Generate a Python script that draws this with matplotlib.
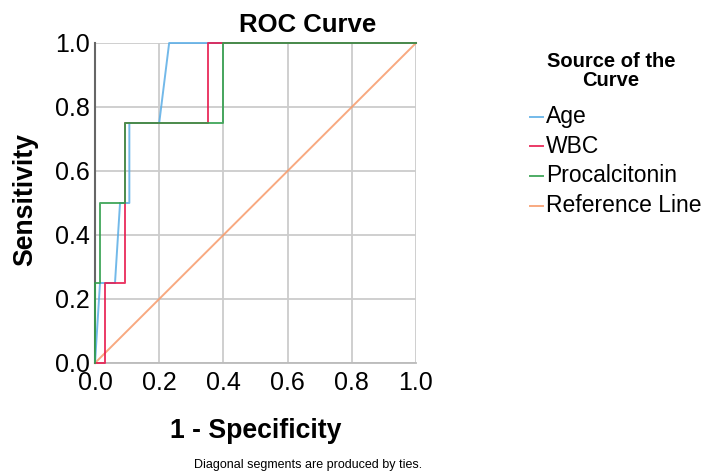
import matplotlib
matplotlib.use("Agg")
import matplotlib.pyplot as plt
from matplotlib.lines import Line2D

plt.rcParams['font.family'] = ['Liberation Sans', 'DejaVu Sans']

age_x = [0, 0.0156, 0.0623, 0.078, 0.107, 0.107, 0.2, 0.231, 1.0]
age_y = [0, 0.25, 0.25, 0.5, 0.5, 0.75, 0.75, 1.0, 1.0]
wbc_x = [0, 0.031, 0.031, 0.092, 0.092, 0.353, 0.353, 1.0]
wbc_y = [0, 0, 0.25, 0.25, 0.75, 0.75, 1.0, 1.0]
pct_x = [0, 0, 0.0156, 0.0156, 0.092, 0.092, 0.40, 0.40, 1.0]
pct_y = [0, 0.25, 0.25, 0.5, 0.5, 0.75, 0.75, 1.0, 1.0]
ref_x = [0, 1]
ref_y = [0, 1]
ticks = [0.0, 0.2, 0.4, 0.6, 0.8, 1.0]
tick_labels = ["0.0", "0.2", "0.4", "0.6", "0.8", "1.0"]

fig = plt.figure(figsize=(7.05, 4.72), dpi=100)
ax = fig.add_axes([95/705, 1-363/472, 321/705, 320/472])

series = [
    (ref_x, ref_y, "#f79a6a", "Reference Line"),
    (age_x, age_y, "#5aade6", "Age"),
    (wbc_x, wbc_y, "#e8184c", "WBC"),
    (pct_x, pct_y, "#2f9e4a", "Procalcitonin"),
]
lines = {}
for x, y, c, lab in series:
    ln, = ax.plot(x, y, color=c, lw=1.4, alpha=0.85, label=lab, clip_on=False, zorder=3)
    lines[lab] = ln

ax.set_xlim(0, 1)
ax.set_ylim(0, 1)
ax.set_xticks(ticks)
ax.set_yticks(ticks)
ax.set_xticklabels(tick_labels, fontsize=18)
ax.set_yticklabels(tick_labels, fontsize=18)
ax.tick_params(axis="x", length=0, pad=6)
ax.tick_params(axis="y", length=0, pad=4)
ax.grid(True, color="#cccccc", lw=1.3)
ax.set_axisbelow(True)
for s in ["top", "right"]:
    ax.spines[s].set_visible(False)
ax.spines["left"].set_color("#666666")
ax.spines["left"].set_linewidth(1.5)
ax.spines["bottom"].set_color("#bbbbbb")
ax.spines["bottom"].set_linewidth(1.3)

fig.text(308/705, 1-25/472, "ROC Curve", fontsize=18.5, fontweight="bold", ha="center", va="center")
fig.text(256/705, 1-431/472, "1 - Specificity", fontsize=19.2, fontweight="bold", ha="center", va="center")
fig.text(25/705, 1-200/472, "Sensitivity", fontsize=19.2, fontweight="bold", ha="center", va="center", rotation=90)
fig.text(308/705, 1-465/472, "Diagonal segments are produced by ties.", fontsize=9, ha="center", va="center")

fig.text(611/705, 1-71/472, "Source of the\nCurve", fontsize=14.5, fontweight="bold", ha="center", va="center", linespacing=1.0)
order = ["Age", "WBC", "Procalcitonin", "Reference Line"]
ys = [117, 146, 176, 206]
for lab, yp in zip(order, ys):
    c = lines[lab].get_color()
    fig.add_artist(Line2D([530/705, 543/705], [1-yp/472, 1-yp/472], color=c, lw=1.4, alpha=0.85))
    fig.text(546/705, 1-yp/472, lab, fontsize=16.5, ha="left", va="center")

fig.savefig("out.png", dpi=100)
